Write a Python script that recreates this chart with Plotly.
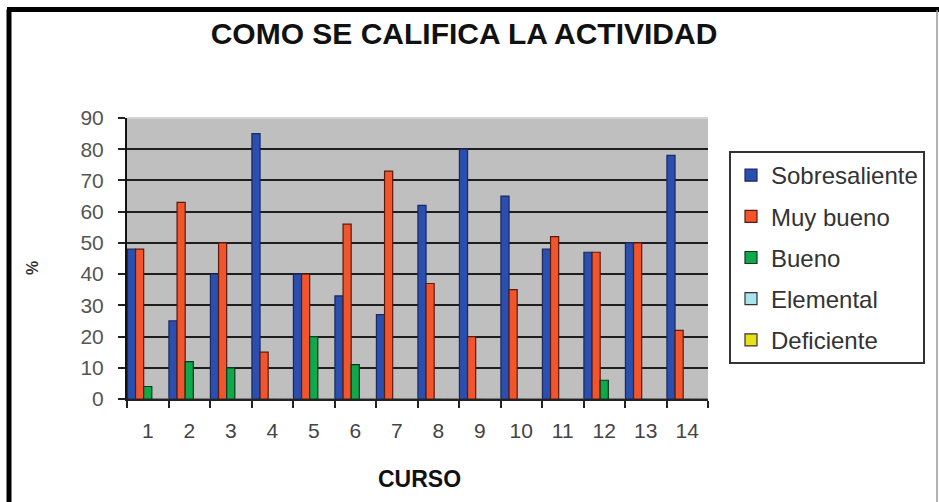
import plotly.graph_objects as go

cursos = [str(i) for i in range(1, 15)]
sobresaliente = [48, 25, 40, 85, 40, 33, 27, 62, 80, 65, 48, 47, 50, 78]
muy_bueno = [48, 63, 50, 15, 40, 56, 73, 37, 20, 35, 52, 47, 50, 22]
bueno = [4, 12, 10, 0, 20, 11, 0, 0, 0, 0, 0, 6, 0, 0]
elemental = [0] * 14
deficiente = [0] * 14

series = [
    ("Sobresaliente", sobresaliente, "#2b4fae", "#1a2a60"),
    ("Muy bueno", muy_bueno, "#f2552c", "#5a1a10"),
    ("Bueno", bueno, "#0fa84a", "#0b3a1c"),
    ("Elemental", elemental, "#a8e4ee", "#333333"),
    ("Deficiente", deficiente, "#e6e21a", "#333333"),
]

W, H = 939, 502
ML, MR, MT, MB = 127, 231, 118, 103
PW, PH = W - ML - MR, H - MT - MB


def px_x(p):
    return (p - ML) / PW


def px_y(p):
    return (H - MB - p) / PH


fig = go.Figure()
for i, (name, vals, col, lcol) in enumerate(series):
    fig.add_trace(go.Bar(
        x=cursos, y=vals, name=name, legendgroup=name,
        marker=dict(color=col, line=dict(color=lcol, width=1.2)),
    ))

font = "Liberation Sans, Arial, sans-serif"

fig.update_layout(
    width=W, height=H,
    margin=dict(l=ML, r=MR, t=MT, b=MB, pad=0),
    paper_bgcolor="white",
    plot_bgcolor="#bfbfbf",
    barmode="group",
    bargap=0.02,
    bargroupgap=0,
    title=dict(text="<b>COMO SE CALIFICA LA ACTIVIDAD</b>", x=464 / W, xanchor="center",
               y=1 - 33 / H, yanchor="middle",
               font=dict(family=font, size=30, color="#111111")),
    legend=dict(
        x=px_x(729), xanchor="left", y=px_y(151), yanchor="top",
        bgcolor="white", bordercolor="#333333", borderwidth=2,
        font=dict(family=font, size=24, color="#333333"),
        tracegroupgap=7,
    ),
    showlegend=True,
)

fig.update_xaxes(
    type="category", categoryorder="array", categoryarray=cursos,
    showline=True, linecolor="#222222", linewidth=2,
    ticks="outside", ticklen=7, tickcolor="#222222", tickwidth=2,
    tickson="boundaries",
    tickfont=dict(family=font, size=21, color="#444444"),
    ticklabelstandoff=12,
    showgrid=False,
)
fig.update_yaxes(
    range=[0, 90], dtick=10,
    showline=True, linecolor="#111111", linewidth=2,
    ticks="outside", ticklen=7, tickcolor="#222222", tickwidth=2,
    tickfont=dict(family=font, size=21, color="#555555"),
    ticklabelstandoff=10,
    showgrid=True, gridcolor="#1e1e1e", gridwidth=2,
    zeroline=False,
)

fig.add_annotation(text="<b>CURSO</b>", xref="paper", yref="paper",
                   x=px_x(419), y=px_y(479), xanchor="center", yanchor="middle",
                   showarrow=False,
                   font=dict(family=font, size=23, color="#111111"))
fig.add_annotation(text="<b>%</b>", xref="paper", yref="paper",
                   x=px_x(32), y=px_y(268), xanchor="center", yanchor="middle",
                   showarrow=False, textangle=-90,
                   font=dict(family=font, size=16, color="#333333"))

# light top edge of the plotting area (no dark gridline at 90 in the original)
fig.add_shape(type="line", xref="paper", yref="paper",
              x0=0.002, x1=1, y0=1, y1=1,
              line=dict(color="#d4d4d4", width=2))

# outer frame of the picture
fig.add_shape(type="line", xref="paper", yref="paper",
              x0=px_x(9), x1=px_x(9), y0=px_y(9.5), y1=px_y(H + 5),
              line=dict(color="black", width=5))
fig.add_shape(type="line", xref="paper", yref="paper",
              x0=px_x(7), x1=px_x(W + 5), y0=px_y(9.5), y1=px_y(9.5),
              line=dict(color="black", width=5))
fig.add_shape(type="line", xref="paper", yref="paper",
              x0=px_x(937), x1=px_x(937), y0=px_y(10), y1=px_y(H + 5),
              line=dict(color="#999999", width=1.5))

fig.write_html("out.html", config={"displayModeBar": False},
               post_script="document.body.style.margin='0px';document.body.style.overflow='hidden';")
